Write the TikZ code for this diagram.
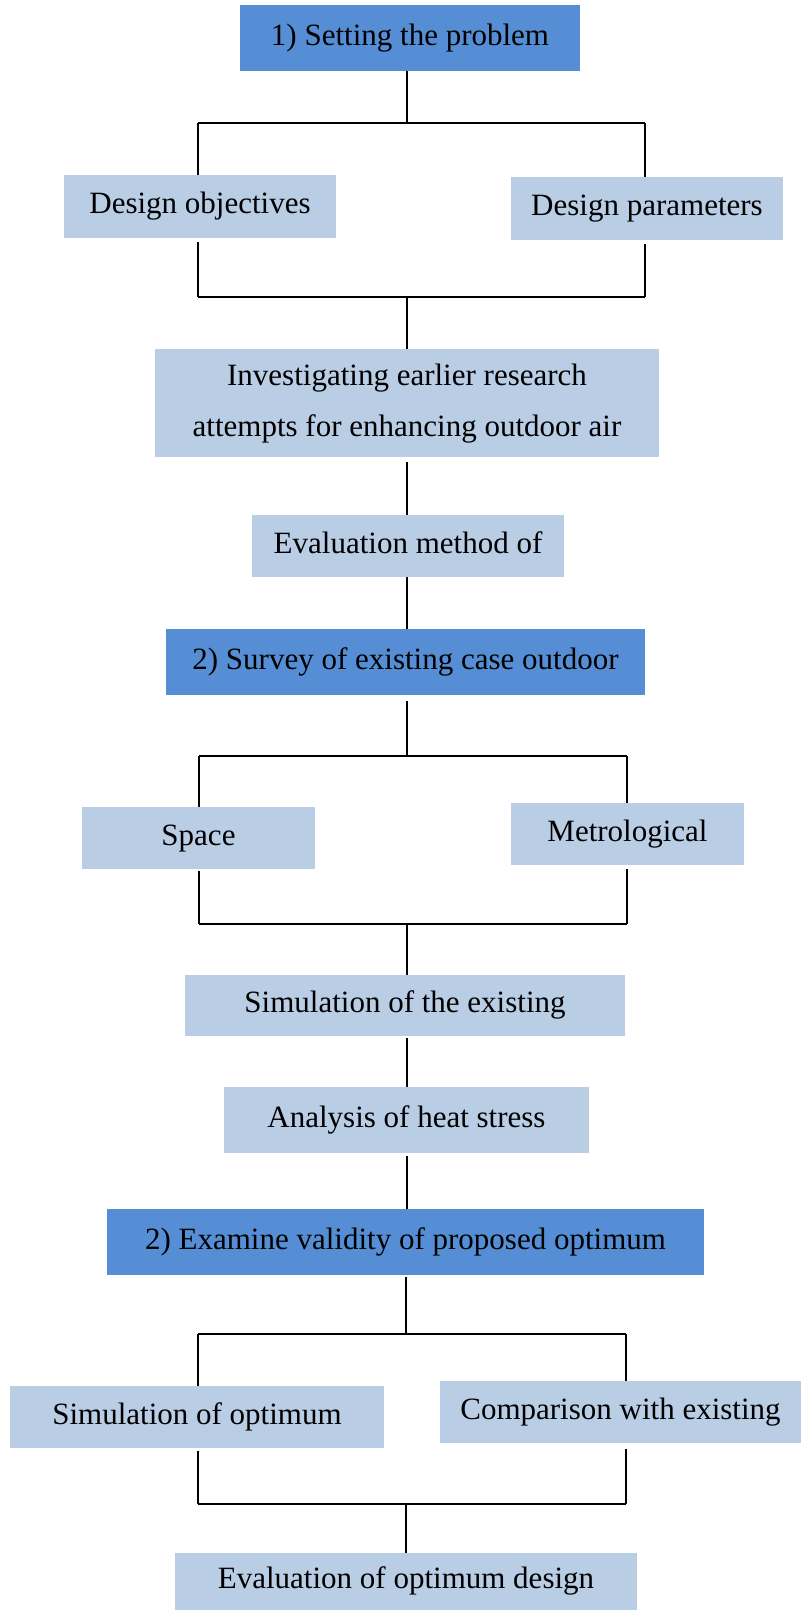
\documentclass[tikz,border=0pt]{standalone}
\usepackage{fontspec}
\setmainfont{Liberation Serif}
\definecolor{darkbox}{HTML}{558ED5}
\definecolor{lightbox}{HTML}{B9CDE5}
\begin{document}
\begin{tikzpicture}[x=1pt,y=1pt,
  basebox/.style={fill=lightbox,draw=none,inner sep=0pt,
    font=\fontsize{31}{51}\selectfont,align=center},
  box/.style={basebox,text height=21pt,text depth=7pt},
  headbox/.style={box,fill=darkbox},
  conn/.style={line width=1.5pt,black},
  bar/.style={line width=1.8pt,black}]
\useasboundingbox (0,0) rectangle (801,-1610);
% nodes
\node[headbox,minimum width=340,minimum height=66] (b1) at (410,-38) {1) Setting the problem};
\node[box,minimum width=272,minimum height=63] (do) at (200,-206.5) {Design objectives};
\node[box,minimum width=272,minimum height=63] (dp) at (647,-208.5) {Design parameters};
\node[basebox,minimum width=504,minimum height=108] (inv) at (407,-403) {\rule{0pt}{22pt}Investigating earlier research\\attempts for enhancing outdoor air\rule[-5pt]{0pt}{5pt}};
\node[box,minimum width=312,minimum height=62] (ev) at (408,-546) {Evaluation method of};
\node[headbox,minimum width=479,minimum height=66] (sv) at (405.5,-662) {2) Survey of existing case outdoor};
\node[box,minimum width=233,minimum height=62] (sp) at (198.5,-838) {Space};
\node[box,minimum width=233,minimum height=62] (me) at (627.5,-834) {Metrological};
\node[box,minimum width=440,minimum height=61] (se) at (405,-1005.5) {Simulation of the existing};
\node[box,minimum width=365,minimum height=66] (an) at (406.5,-1120) {Analysis of heat stress};
\node[headbox,minimum width=597,minimum height=66] (ex) at (405.5,-1242) {2) Examine validity of proposed optimum};
\node[box,minimum width=374,minimum height=62] (so) at (197,-1417) {Simulation of optimum};
\node[box,minimum width=361,minimum height=62] (ce) at (620.5,-1412) {Comparison with existing};
\node[box,minimum width=462,minimum height=57] (eo) at (406,-1581.5) {Evaluation of optimum design};
% bracket coordinates
\coordinate (t1) at (407,-123);
\coordinate (t1l) at (198,-123);
\coordinate (t1r) at (645,-123);
\coordinate (t2) at (407,-297);
\coordinate (t2l) at (198,-297);
\coordinate (t2r) at (645,-297);
\coordinate (t3) at (407,-756);
\coordinate (t3l) at (199,-756);
\coordinate (t3r) at (627,-756);
\coordinate (t4) at (407,-924);
\coordinate (t4l) at (199,-924);
\coordinate (t4r) at (627,-924);
\coordinate (t5) at (406,-1334);
\coordinate (t5l) at (198,-1334);
\coordinate (t5r) at (626,-1334);
\coordinate (t6) at (406,-1504);
\coordinate (t6l) at (198,-1504);
\coordinate (t6r) at (626,-1504);
% connectors
\draw[conn] (b1.south -| t1) -- (t1);
\draw[bar] (t1l) -- (t1r);
\draw[conn] (t1l) -- (t1l |- do.north);
\draw[conn] (t1r) -- (t1r |- dp.north);
\draw[conn] ([yshift=-4]t2l |- do.south) -- (t2l);
\draw[conn] ([yshift=-4]t2r |- dp.south) -- (t2r);
\draw[bar] (t2l) -- (t2r);
\draw[conn] (t2) -- (t2 |- inv.north);
\draw[conn] ([yshift=-5]t2 |- inv.south) -- (t2 |- ev.north);
\draw[conn] (t2 |- ev.south) -- (t2 |- sv.north);
\draw[conn] ([yshift=-6]t3 |- sv.south) -- (t3);
\draw[bar] (t3l) -- (t3r);
\draw[conn] (t3l) -- (t3l |- sp.north);
\draw[conn] (t3r) -- (t3r |- me.north);
\draw[conn] ([yshift=-2]t4l |- sp.south) -- (t4l);
\draw[conn] ([yshift=-4]t4r |- me.south) -- (t4r);
\draw[bar] (t4l) -- (t4r);
\draw[conn] (t4) -- (t4 |- se.north);
\draw[conn] ([yshift=-2]t4 |- se.south) -- (t4 |- an.north);
\draw[conn] ([yshift=-3]t4 |- an.south) -- (t4 |- ex.north);
\draw[conn] ([yshift=-2]t5 |- ex.south) -- (t5);
\draw[bar] (t5l) -- (t5r);
\draw[conn] (t5l) -- (t5l |- so.north);
\draw[conn] (t5r) -- (t5r |- ce.north);
\draw[conn] ([yshift=-3]t6l |- so.south) -- (t6l);
\draw[conn] ([yshift=-6]t6r |- ce.south) -- (t6r);
\draw[bar] (t6l) -- (t6r);
\draw[conn] (t6) -- (t6 |- eo.north);
\end{tikzpicture}
\end{document}
